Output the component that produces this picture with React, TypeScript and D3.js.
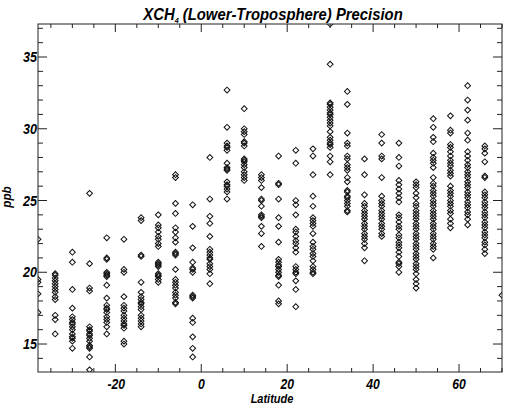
import React from "react";
import * as d3 from "d3";

const latitudes = [-38, -34, -30, -26, -22, -18, -14, -10, -6, -2, 2, 6, 10, 14, 18, 22, 26, 30, 34, 38, 42, 46, 50, 54, 58, 62, 66, 70];

const ppbValues = [
  [22.3, 19.5, 19.3, 18.5, 17.2],
  [19.9, 19.8, 19.6, 19.4, 19.2, 19.0, 18.8, 18.6, 18.3, 18.1, 17.0, 16.7, 15.7],
  [21.4, 20.7, 18.8, 17.5, 16.9, 16.7, 16.5, 16.4, 16.2, 16.0, 15.7, 15.5, 15.4, 15.2, 14.7],
  [25.5, 20.6, 18.9, 18.7, 16.2, 16.0, 15.9, 15.7, 15.6, 15.4, 15.2, 14.9, 14.8, 14.7, 14.1, 13.2],
  [22.4, 21.0, 20.9, 20.0, 19.9, 19.8, 19.7, 19.1, 18.2, 17.7, 17.5, 17.4, 17.2, 16.9, 16.7, 16.5, 16.2, 15.7],
  [22.3, 20.2, 20.0, 18.3, 17.7, 17.5, 17.3, 17.0, 16.8, 16.6, 16.4, 16.3, 16.1, 15.2, 15.0],
  [23.8, 23.6, 21.2, 21.1, 19.3, 18.6, 18.3, 18.1, 17.9, 17.8, 17.6, 17.4, 17.0, 16.8, 16.6, 16.4, 16.2],
  [24.0, 23.3, 23.1, 22.8, 22.5, 22.3, 22.0, 21.8, 20.7, 20.6, 20.5, 20.4, 19.9, 19.8, 19.7, 19.5, 19.3],
  [26.8, 26.6, 24.8, 24.1, 23.1, 22.8, 22.4, 22.1, 21.4, 21.3, 21.2, 20.2, 19.5, 19.3, 19.1, 18.9, 18.6, 18.4, 18.2, 17.9, 17.8],
  [24.7, 23.2, 21.7, 20.7, 20.3, 20.2, 20.0, 18.4, 18.3, 18.2, 16.8, 16.5, 15.5, 14.7, 14.1],
  [28.0, 25.1, 23.9, 23.4, 22.5, 21.6, 21.4, 21.2, 21.0, 20.9, 20.6, 20.4, 20.2, 19.9, 19.2],
  [32.7, 30.1, 29.0, 28.8, 28.7, 28.5, 27.6, 27.3, 27.2, 27.1, 26.3, 26.1, 26.0, 25.8, 25.6, 25.1],
  [31.4, 30.0, 29.8, 29.6, 29.1, 29.0, 28.8, 27.9, 27.8, 27.7, 27.5, 27.3, 27.0, 26.8, 26.6, 26.4],
  [26.8, 26.6, 26.4, 25.9, 25.1, 25.0, 24.6, 24.0, 23.9, 23.8, 23.2, 22.7, 21.8],
  [28.1, 26.2, 26.1, 25.1, 23.8, 23.2, 22.1, 20.9, 20.7, 20.5, 20.4, 20.2, 20.0, 19.8, 19.7, 19.1, 18.0, 17.8],
  [28.5, 27.6, 25.0, 24.7, 24.0, 23.0, 22.8, 22.5, 22.2, 22.0, 21.7, 21.4, 20.4, 20.2, 20.0, 19.9, 19.4, 18.8, 17.6],
  [28.6, 28.1, 26.8, 25.3, 24.6, 23.8, 23.6, 23.4, 23.2, 22.7, 22.1, 21.8, 21.6, 21.3, 21.1, 20.8, 20.4, 20.2, 20.0, 19.9],
  [37.3, 34.5, 31.8, 31.7, 31.5, 31.3, 31.1, 31.0, 30.8, 30.6, 30.4, 30.2, 29.8, 29.4, 29.2, 29.0, 28.9, 28.7, 28.1, 27.7, 26.8],
  [32.6, 31.7, 29.7, 29.0, 28.8, 28.1, 27.9, 27.5, 27.3, 27.1, 26.6, 26.3, 25.7, 25.6, 25.3, 25.2, 25.0, 24.8, 24.6, 24.3, 24.2],
  [27.9, 26.8, 25.4, 24.8, 24.6, 24.3, 24.1, 23.9, 23.7, 23.4, 23.2, 23.0, 22.7, 22.5, 22.3, 22.0, 21.7, 20.8],
  [29.6, 29.0, 28.1, 27.9, 26.6, 25.3, 25.0, 24.8, 24.6, 24.3, 24.1, 23.9, 23.7, 23.4, 23.2, 23.0, 22.7, 22.5],
  [29.0, 28.0, 27.4, 26.4, 26.1, 25.8, 25.5, 25.2, 24.9, 24.0, 23.8, 23.5, 23.2, 23.0, 22.6, 22.4, 22.1, 21.9, 21.7, 21.4, 21.1, 20.7, 20.6, 20.4, 20.0],
  [26.3, 26.1, 25.9, 25.5, 25.2, 24.8, 24.6, 24.3, 24.1, 23.9, 23.7, 23.4, 23.2, 23.0, 22.7, 22.5, 22.3, 22.0, 21.8, 21.6, 21.3, 21.1, 20.9, 20.6, 20.4, 20.2, 19.9, 19.5, 19.2, 18.9],
  [30.7, 30.1, 29.4, 29.1, 28.3, 28.0, 27.8, 27.6, 27.3, 26.6, 26.2, 26.0, 25.7, 25.5, 25.3, 25.0, 24.8, 24.6, 24.3, 24.1, 23.9, 23.7, 23.4, 23.2, 23.0, 22.7, 22.5, 22.3, 22.0, 21.8, 21.6, 21.0],
  [30.9, 29.9, 29.7, 28.9, 28.7, 28.4, 28.1, 27.8, 27.6, 27.4, 27.1, 26.9, 26.7, 26.0, 25.7, 25.5, 25.3, 25.0, 24.8, 24.6, 24.3, 24.1, 23.7, 23.4, 23.1],
  [33.0, 32.0, 31.3, 30.6, 29.7, 29.2, 28.4, 28.1, 27.8, 27.5, 27.3, 27.0, 26.8, 26.6, 26.3, 26.1, 25.9, 25.6, 25.4, 25.2, 24.9, 24.7, 24.5, 24.2, 24.0, 23.7, 23.3],
  [28.8, 28.6, 28.3, 27.7, 26.7, 26.6, 25.6, 25.4, 25.2, 24.9, 24.7, 24.5, 24.2, 24.0, 23.8, 23.5, 23.3, 23.1, 22.8, 22.6, 22.4, 22.1, 21.9, 21.6, 21.3],
  [18.4],
];

const xMajorTicks = [-20, 0, 20, 40, 60];
const yMajorTicks = [15, 20, 25, 30, 35];

const font = "'Liberation Sans', Arial, sans-serif";
// the original lettering is a condensed Helvetica, squeeze it a bit
const squeeze = 0.84;

export default function App() {
  const width = 516;
  const height = 406;
  const margin = { top: 24, right: 14, bottom: 34, left: 38 };

  const x = d3.scaleLinear().domain([-38, 70]).range([margin.left, width - margin.right]);
  const y = d3.scaleLinear().domain([13.05, 37.3]).range([height - margin.bottom, margin.top]);

  const [x0, x1] = x.range();
  const [y0, y1] = y.range(); // y0 bottom, y1 top

  const xMinor = d3.range(-35, 71, 5).filter((t) => !xMajorTicks.includes(t));
  const yMinor = d3.range(14, 38, 1).filter((t) => !yMajorTicks.includes(t));

  const points = latitudes.flatMap((lat, i) => ppbValues[i].map((v) => ({ lat, v })));

  // IDL psym=4 style diamond
  const diamond = d3.symbol(d3.symbolSquare, 17)();

  const axisColor = "#222";

  return (
    <svg
      width={width}
      height={height}
      style={{ position: "absolute", left: 0, top: 0, background: "#fff" }}
      fontFamily={font}
      fontWeight="bold"
      fontStyle="italic"
    >
      <defs>
        <clipPath id="plot-clip">
          <rect x={x0} y={y1} width={x1 - x0} height={y0 - y1} />
        </clipPath>
      </defs>

      {/* title */}
      <g transform={`translate(273,20) scale(0.9,1)`}>
        <text x={0} y={0} textAnchor="middle" fontSize={16.5} fill="#000">
          XCH<tspan fontSize={8} dy={3}>4</tspan>
          <tspan dy={-3}> (Lower-Troposphere) Precision</tspan>
        </text>
      </g>

      {/* scatter */}
      <g clipPath="url(#plot-clip)">
        {points.map((d, i) => (
          <path
            key={i}
            d={diamond}
            transform={`translate(${x(d.lat)},${y(d.v)}) rotate(45)`}
            fill="none"
            stroke="#111"
            strokeWidth={1}
          />
        ))}
      </g>

      {/* frame */}
      <rect x={x0} y={y1} width={x1 - x0} height={y0 - y1} fill="none" stroke={axisColor} strokeWidth={1} />

      {/* x ticks, bottom and top */}
      {xMajorTicks.map((t) => (
        <g key={`xM${t}`} stroke={axisColor}>
          <line x1={x(t)} x2={x(t)} y1={y0} y2={y0 - 8} />
          <line x1={x(t)} x2={x(t)} y1={y1} y2={y1 + 8} />
        </g>
      ))}
      {xMinor.map((t) => (
        <g key={`xm${t}`} stroke={axisColor}>
          <line x1={x(t)} x2={x(t)} y1={y0} y2={y0 - 4} />
          <line x1={x(t)} x2={x(t)} y1={y1} y2={y1 + 4} />
        </g>
      ))}

      {/* y ticks, left and right */}
      {yMajorTicks.map((t) => (
        <g key={`yM${t}`} stroke={axisColor}>
          <line x1={x0} x2={x0 + 9} y1={y(t)} y2={y(t)} />
          <line x1={x1} x2={x1 - 9} y1={y(t)} y2={y(t)} />
        </g>
      ))}
      {yMinor.map((t) => (
        <g key={`ym${t}`} stroke={axisColor}>
          <line x1={x0} x2={x0 + 5} y1={y(t)} y2={y(t)} />
          <line x1={x1} x2={x1 - 5} y1={y(t)} y2={y(t)} />
        </g>
      ))}

      {/* tick labels */}
      {xMajorTicks.map((t) => (
        <g key={`xl${t}`} transform={`translate(${x(t) + (t < 0 ? 1 : 0)},388.5) scale(${squeeze},1)`}>
          <text textAnchor="middle" fontSize={14.5} fill="#000">
            {t}
          </text>
        </g>
      ))}
      {yMajorTicks.map((t) => (
        <g key={`yl${t}`} transform={`translate(37,${y(t) + 5}) scale(${squeeze},1)`}>
          <text textAnchor="end" fontSize={15} fill="#000">
            {t}
          </text>
        </g>
      ))}

      {/* axis titles */}
      <g transform={`translate(272,403) scale(${squeeze + 0.04},1)`}>
        <text textAnchor="middle" fontSize={12.5} fill="#000">
          Latitude
        </text>
      </g>
      <g transform="translate(11,197) rotate(-90) scale(0.9,1)">
        <text textAnchor="middle" fontSize={13} fill="#000">
          ppb
        </text>
      </g>
    </svg>
  );
}
